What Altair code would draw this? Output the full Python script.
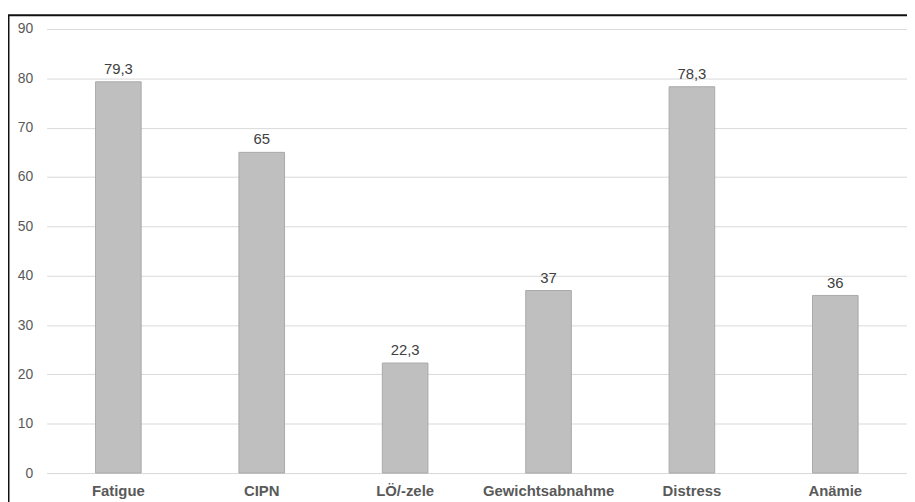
import altair as alt
import pandas as pd

categories = ["Fatigue", "CIPN", "LÖ/-zele", "Gewichtsabnahme", "Distress", "Anämie"]
values = [79.3, 65, 22.3, 37, 78.3, 36]
y_ticks = [0, 10, 20, 30, 40, 50, 60, 70, 80, 90]

df = pd.DataFrame({"cat": categories, "val": values})

FONT = "Liberation Sans"

x_enc = alt.X(
    "cat:N",
    sort=categories,
    title=None,
    scale=alt.Scale(paddingInner=0.682, paddingOuter=0.341),
    axis=alt.Axis(
        labelAngle=0,
        labelFont=FONT,
        labelFontSize=15,
        labelFontWeight="bold",
        labelColor="#595959",
        labelBaseline="alphabetic",
        labelPadding=23,
        ticks=False,
        tickSize=0,
        domain=False,
        grid=False,
    ),
)
y_enc = alt.Y(
    "val:Q",
    title=None,
    scale=alt.Scale(domain=[0, 90], nice=False),
    axis=alt.Axis(
        values=y_ticks,
        labelFont=FONT,
        labelFontSize=14,
        labelColor="#595959",
        labelPadding=14,
        ticks=False,
        tickSize=0,
        domain=False,
        grid=True,
        gridColor="#d9d9d9",
        gridWidth=1,
    ),
)

bars = alt.Chart(df).mark_bar(color="#bfbfbf", stroke="#a9a9a9", strokeWidth=1).encode(
    x=x_enc, y=y_enc
)

labels = (
    alt.Chart(df)
    .transform_calculate(lbl="replace(toString(datum.val), '.', ',')")
    .mark_text(font=FONT, fontSize=15, color="#404040", baseline="alphabetic", dy=-8)
    .encode(x=alt.X("cat:N", sort=categories), y="val:Q", text="lbl:N")
)

frame_data = alt.Data(values=[{"a": 1}])
frame_left = alt.Chart(frame_data).mark_rule(color="#111111", strokeWidth=2).encode(
    x=alt.value(-38.5), y=alt.value(-14), y2=alt.value(480)
)
frame_top = alt.Chart(frame_data).mark_rule(color="#111111", strokeWidth=2).encode(
    x=alt.value(-39.5), x2=alt.value(870), y=alt.value(-14)
)

chart = (
    alt.layer(bars, labels, frame_left, frame_top)
    .properties(
        width=868,
        height=448,
        autosize=alt.AutoSizeParams(type="none"),
        padding={"left": 39, "top": 19, "right": 0, "bottom": 27},
        background="white",
    )
    .configure_view(stroke=None)
)

chart.save("out.html", embed_options={"renderer": "svg", "actions": False})
